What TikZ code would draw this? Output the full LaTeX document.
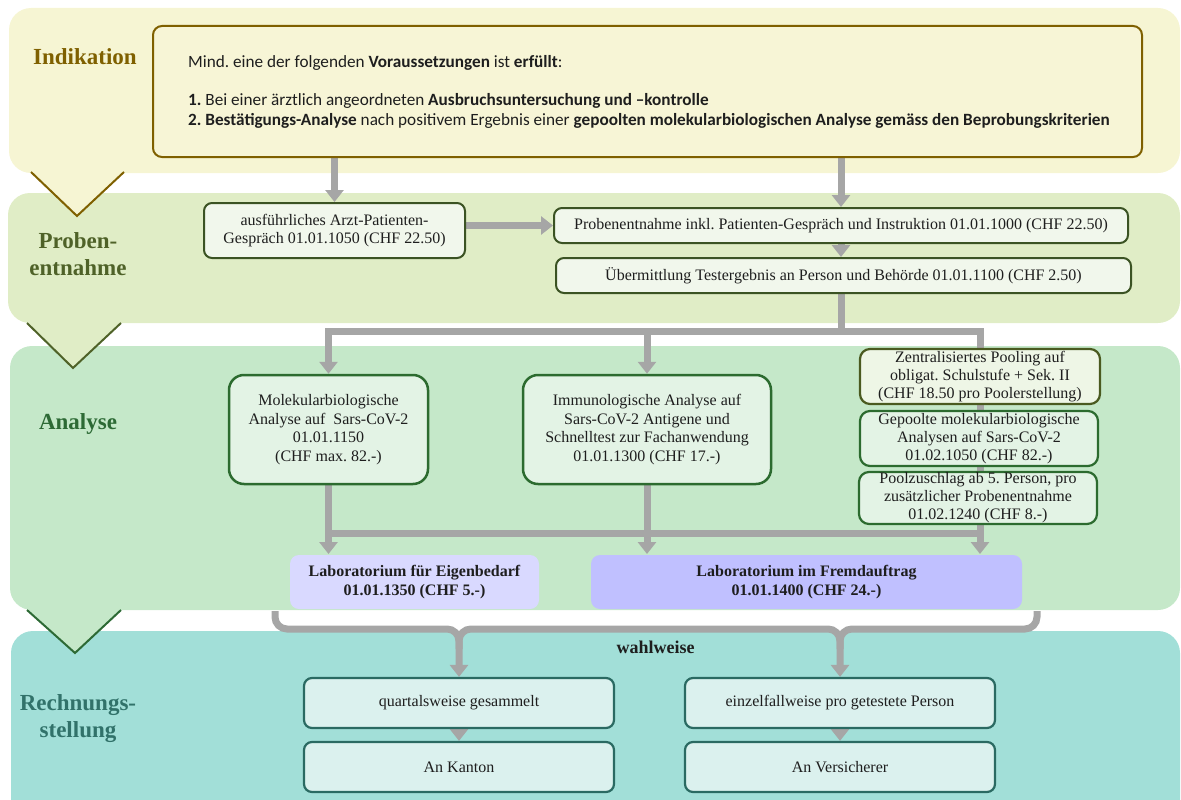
\documentclass[tikz,border=0pt]{standalone}
\usepackage{fontspec}
\setmainfont{Liberation Serif}
\newfontfamily\calib{Carlito}
\usetikzlibrary{arrows.meta,calc}
\pgfdeclarelayer{bands}
\pgfdeclarelayer{lines}
\pgfsetlayers{bands,lines,main}
\frenchspacing
\definecolor{bandI}{HTML}{F6F5D3}
\definecolor{bandP}{HTML}{E0EDC6}
\definecolor{bandA}{HTML}{C5E8C9}
\definecolor{bandR}{HTML}{A2DFD8}
\definecolor{gold}{HTML}{7F6000}
\definecolor{olive}{HTML}{4F6228}
\definecolor{dgreen}{HTML}{2D6A35}
\definecolor{tealdk}{HTML}{31726A}
\definecolor{garr}{HTML}{A6A6A6}
\definecolor{txt}{HTML}{1E1E1E}
\definecolor{indfill}{HTML}{F7F5D6}
\definecolor{pfill}{HTML}{F1F7EC}
\definecolor{pdraw}{HTML}{3B5323}
\definecolor{afill}{HTML}{E3F3E5}
\definecolor{adraw}{HTML}{2C6B2F}
\definecolor{zfill}{HTML}{EEF6E6}
\definecolor{zdraw}{HTML}{4A5A20}
\definecolor{labone}{HTML}{D9D9FF}
\definecolor{labtwo}{HTML}{C0C0FF}
\definecolor{rfill}{HTML}{DBF1EE}
\definecolor{rdraw}{HTML}{2A6A62}
\begin{document}
\begin{tikzpicture}[x=1pt,y=-1pt,
  gline/.style={draw=garr, line width=7pt},
  garrow/.style={gline, -{Triangle[width=18pt,length=12pt]}},
  bx/.style={rounded corners=8pt, line width=2pt, align=center, text=txt,
    font=\fontsize{16}{18.5}\selectfont, inner sep=0pt},
  pbox/.style={bx, fill=pfill, draw=pdraw},
  abox/.style={bx, fill=afill, draw=adraw, line width=2.5pt, rounded corners=15pt},
  poolbox/.style={bx, fill=afill, draw=adraw, line width=2.2pt, rounded corners=10pt, font=\fontsize{16}{18}\selectfont},
  labbox/.style={bx, draw=none, rounded corners=9pt, font=\bfseries\fontsize{16}{18.5}\selectfont},
  rbox/.style={bx, fill=rfill, draw=rdraw, line width=2.2pt},
  phase/.style={font=\bfseries\fontsize{23}{27}\selectfont, align=center},
  indtxt/.style={anchor=base west, text=txt, font=\calib\fontsize{17.2}{20}\selectfont, inner sep=0pt}
]
\useasboundingbox (0,0) rectangle (1181,800);

\begin{pgfonlayer}{bands}
\fill[bandI, rounded corners=22pt] (9,8) rectangle (1180,173);
\fill[bandP, rounded corners=22pt] (8,193) rectangle (1180,323);
\fill[bandA, rounded corners=22pt] (10,346) rectangle (1180,610);
\fill[bandR, rounded corners=22pt] (11,631) rectangle (1180,840);
\fill[bandI] (31,171) -- (77,216) -- (124,171) -- cycle;
\draw[gold, line width=2pt] (31,172) -- (77,216) -- (124,172);
\fill[bandP] (27,322) -- (73,368) -- (121,322) -- cycle;
\draw[olive, line width=2pt] (27,323) -- (73,368) -- (121,323);
\fill[bandA] (27,609) -- (75,653) -- (121,609) -- cycle;
\draw[dgreen, line width=2pt] (27,610) -- (75,653) -- (121,610);
\end{pgfonlayer}

% phase labels
\node[phase, text=gold] (pI) at (85,57) {Indikation};
\node[phase, text=olive] (pP) at (78,254) {Proben-\\entnahme};
\node[phase, text=dgreen] (pA) at (78,424) {Analyse};
\node[phase, text=tealdk] (pR) at (78,719) {Rechnungs-\\stellung};

% Indikation box
\node[draw=gold, fill=indfill, line width=2pt, rounded corners=9pt,
  minimum width=989pt, minimum height=131pt, inner sep=0pt] (ind) at (647.5,91.5) {};
\node[indtxt] (il1) at (188,68) {Mind. eine der folgenden \textbf{Voraussetzungen} ist \textbf{erfüllt}:};
\node[indtxt] (il2) at (188,105) {\textbf{1.} Bei einer ärztlich angeordneten \textbf{Ausbruchsuntersuchung und –kontrolle}};
\node[indtxt] (il3) at (188,125) {\textbf{2. Bestätigungs-Analyse} nach positivem Ergebnis einer \textbf{gepoolten molekularbiologischen Analyse gemäss den Beprobungskriterien}};

% Probenentnahme
\node[pbox, minimum width=261pt, minimum height=55pt] (A) at (334.5,230.5)
  {ausführliches Arzt-Patienten-\\Gespräch 01.01.1050 (CHF 22.50)};
\node[pbox, minimum width=574pt, minimum height=35pt] (B) at (841,225.5)
  {Probenentnahme inkl. Patienten-Gespräch und Instruktion 01.01.1000 (CHF 22.50)};
\node[pbox, minimum width=575pt, minimum height=35pt] (C) at (843.5,275.5)
  {Übermittlung Testergebnis an Person und Behörde 01.01.1100 (CHF 2.50)};

% Analyse
\node[abox, minimum width=199pt, minimum height=109pt] (Mol) at (328.5,429.5)
  {Molekularbiologische\\Analyse auf\ \ Sars-CoV-2\\01.01.1150\\(CHF max. 82.-)};
\node[abox, minimum width=248pt, minimum height=109pt] (Imm) at (647,429.5)
  {Immunologische Analyse auf\\Sars-CoV-2 Antigene und\\Schnelltest zur Fachanwendung\\01.01.1300 (CHF 17.-)};
\node[poolbox, fill=zfill, draw=zdraw, minimum width=240pt, minimum height=55pt] (Zen) at (980,376.5)
  {Zentralisiertes Pooling auf\\obligat. Schulstufe + Sek. II\\(CHF 18.50 pro Poolerstellung)};
\node[poolbox, minimum width=238pt, minimum height=55pt] (Gep) at (979,438.5)
  {Gepoolte molekularbiologische\\Analysen auf Sars-CoV-2\\01.02.1050 (CHF 82.-)};
\node[poolbox, minimum width=238pt, minimum height=52pt] (Poo) at (978,498)
  {Poolzuschlag ab 5. Person, pro\\zusätzlicher Probenentnahme\\01.02.1240 (CHF 8.-)};
\node[labbox, fill=labone, minimum width=249pt, minimum height=54pt] (L1) at (414.5,582)
  {Laboratorium für Eigenbedarf\\01.01.1350 (CHF 5.-)};
\node[labbox, fill=labtwo, minimum width=431pt, minimum height=54pt] (L2) at (806.5,582)
  {Laboratorium im Fremdauftrag\\01.01.1400 (CHF 24.-)};

% Rechnungsstellung
\node[font=\bfseries\fontsize{18}{20}\selectfont, text=txt] (wahl) at (655.5,647) {wahlweise};
\node[rbox, minimum width=310pt, minimum height=50pt] (Q) at (459,703) {quartalsweise gesammelt};
\node[rbox, minimum width=310pt, minimum height=50pt] (K) at (459,767) {An Kanton};
\node[rbox, minimum width=310pt, minimum height=50pt] (E) at (840,703) {einzelfallweise pro getestete Person};
\node[rbox, minimum width=310pt, minimum height=50pt] (V) at (840,767) {An Versicherer};

\coordinate (j1) at (841,331);
\coordinate (j2) at (0,533);
\coordinate (by) at (0,629);
\coordinate (bl) at (275,611);
\coordinate (br) at (1037,611);
\coordinate (cs) at (B.south |- C.south);

\begin{pgfonlayer}{lines}
\draw[garrow] (A.north |- ind.south) -- (A.north);
\draw[garrow] (B.north |- ind.south) -- (B.north);
\draw[garrow] (B.west -| A.east) -- (B.west);
\draw[garrow] (B.south) -- (B.south |- C.north);
\draw[garrow] (cs) |- (Mol.north |- j1) -- (Mol.north);
\draw[garrow] (cs) |- (Zen.north |- j1) -- (Zen.north |- L2.north);
\draw[garrow] (Imm.north |- j1) -- (Imm.north);
\draw[garrow] (Mol.south) -- (Mol.south |- L1.north);
\draw[garrow] (Imm.south) -- (Imm.south |- L2.north);
\draw[gline] (Mol.south |- j2) -- (Zen.north |- j2);
\draw[garrow, rounded corners=12pt] (bl) |- (Q.north |- by) -- (Q.north);
\draw[garrow, rounded corners=12pt] (br) |- (E.north |- by) -- (E.north);
\draw[gline, rounded corners=12pt] ($(Q.north |- by)+(0,20)$) -- (Q.north |- by) -- (E.north |- by) -- ($(E.north |- by)+(0,20)$);
\draw[garrow] (Q.south) -- (K.north);
\draw[garrow] (E.south) -- (V.north);
\end{pgfonlayer}
\end{tikzpicture}
\end{document}
